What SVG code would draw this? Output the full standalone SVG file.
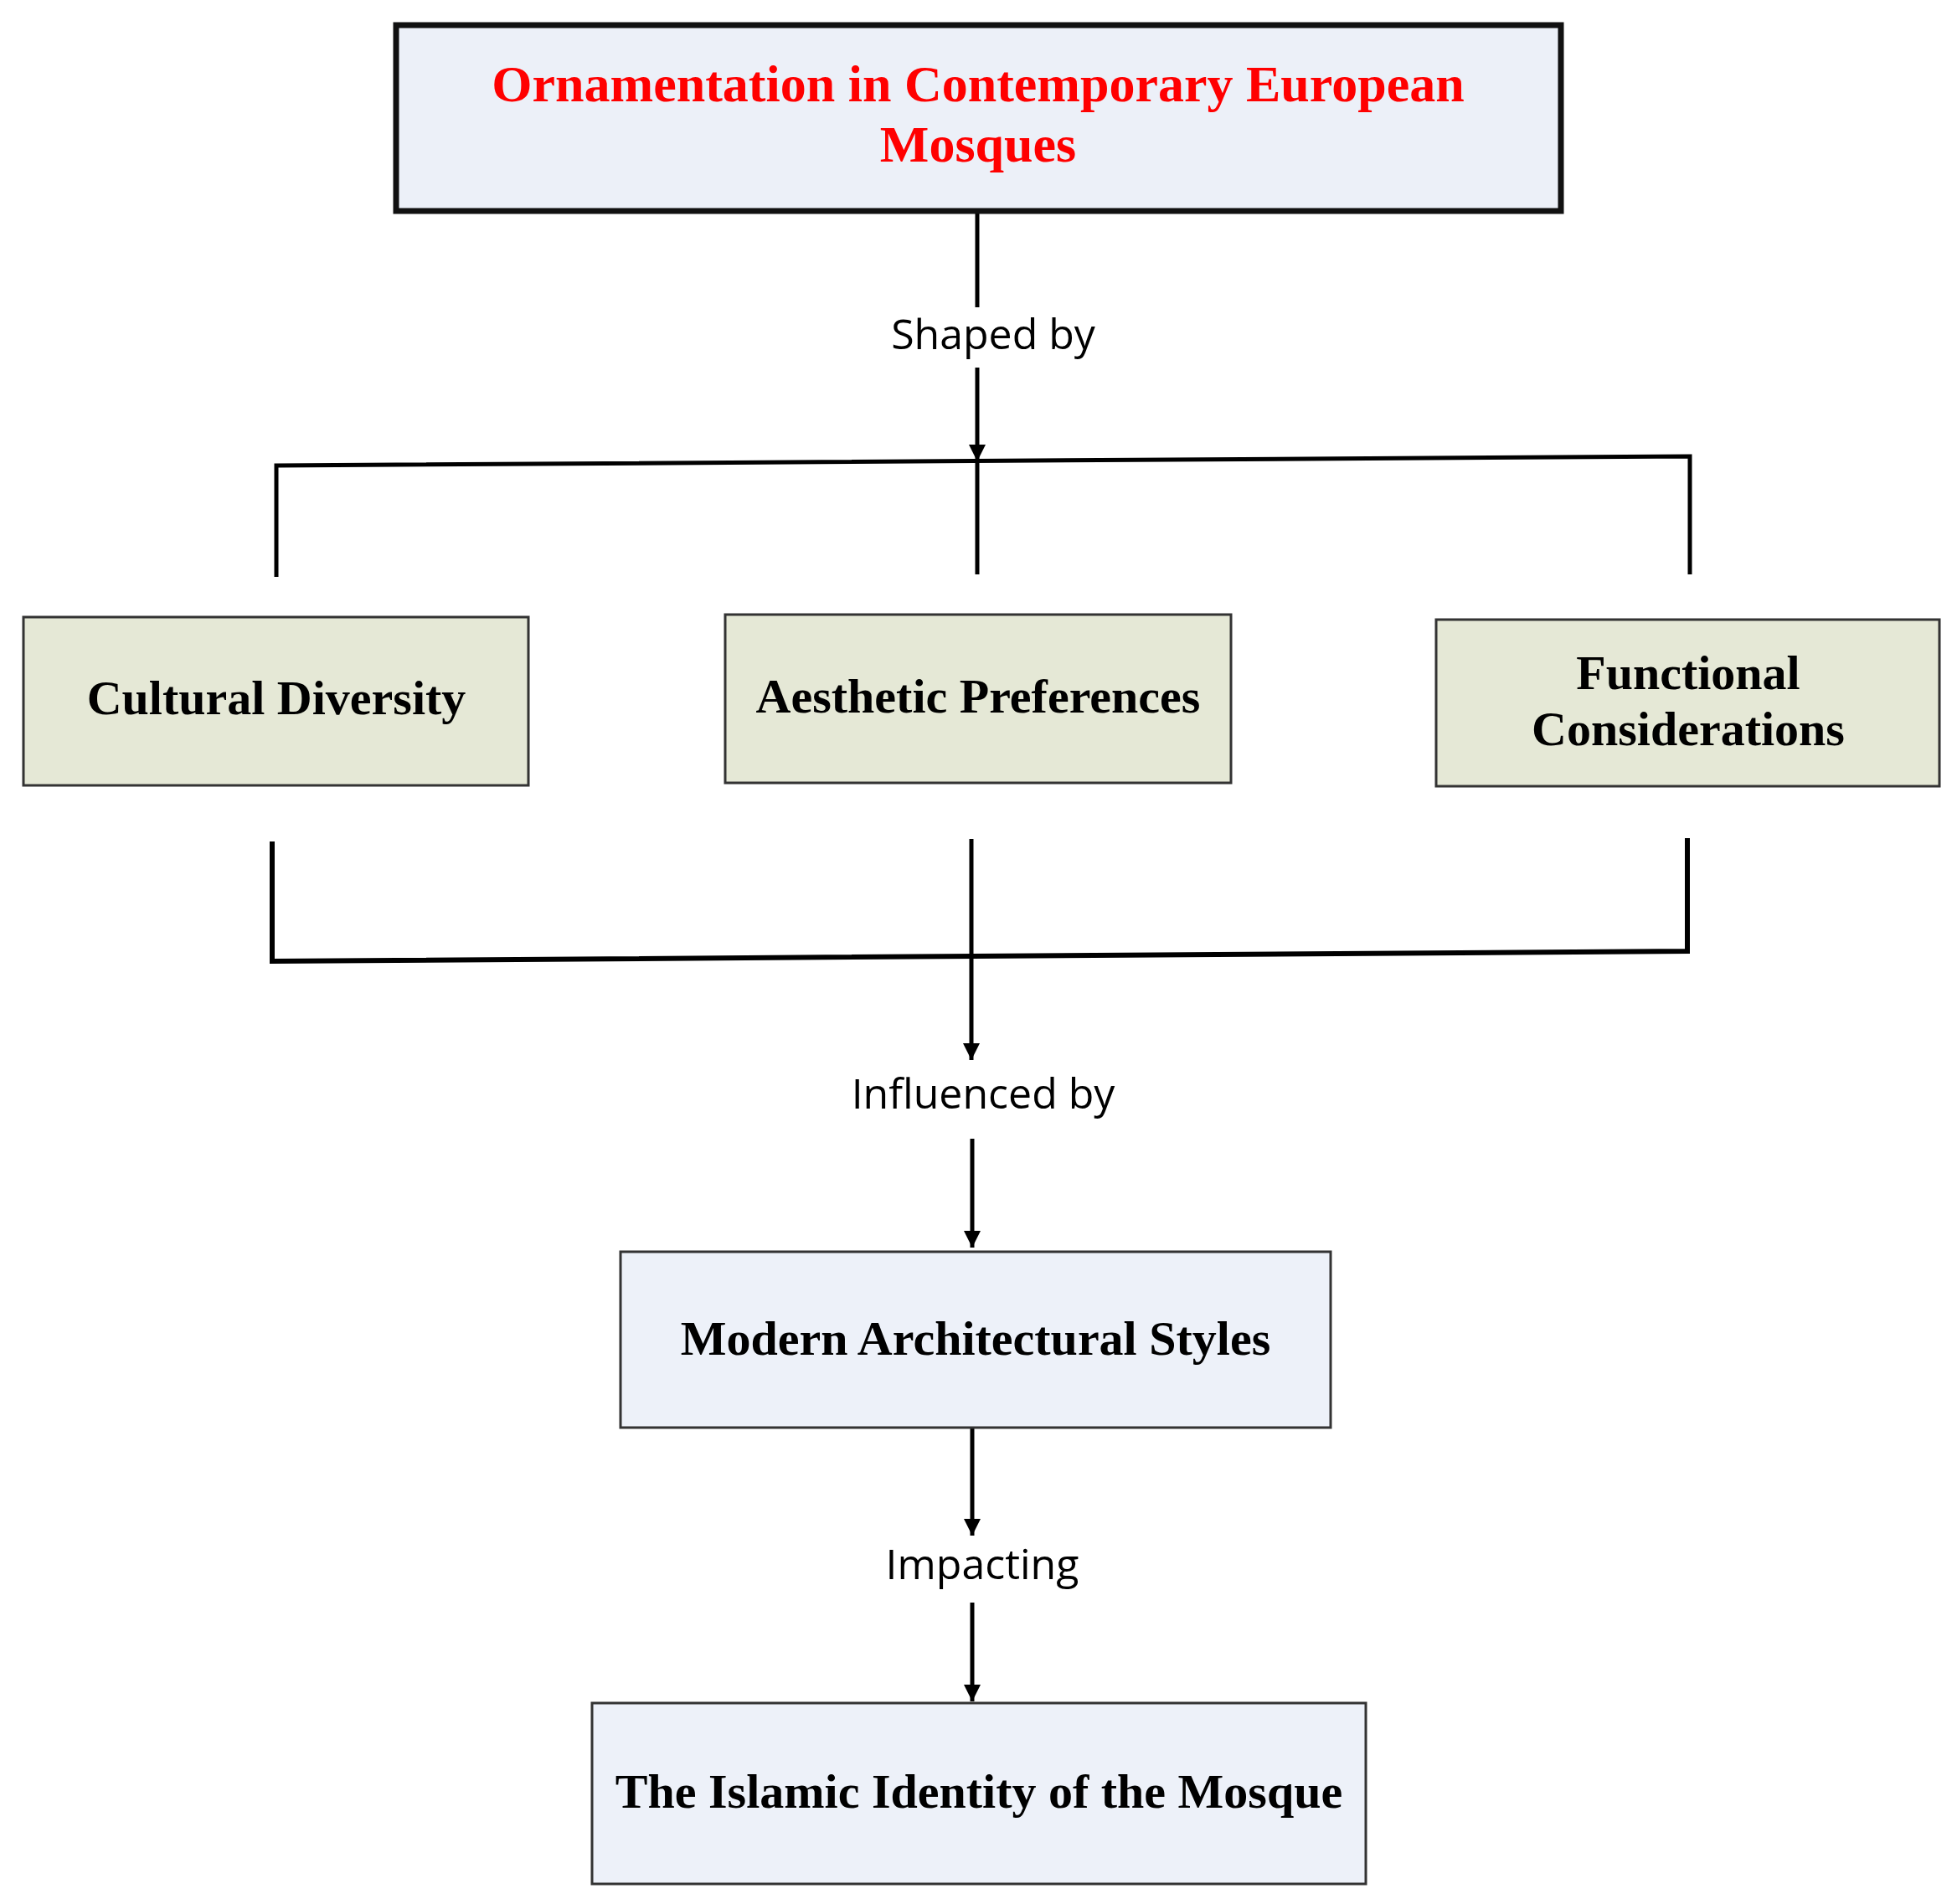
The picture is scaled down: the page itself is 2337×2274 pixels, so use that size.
<svg xmlns="http://www.w3.org/2000/svg" width="2337" height="2274" viewBox="0 0 2337 2274">
<style>
.t{font-family:"Liberation Serif","Times New Roman",serif;font-weight:bold;text-anchor:middle;fill:#000}
.lbl{font-family:"Open Sans","Noto Sans",sans-serif;font-size:50px;text-anchor:middle;fill:#000}
.c{stroke:#000;fill:none;stroke-width:5}
</style>
<defs><marker id="ah" markerWidth="10" markerHeight="10" refX="9" refY="5" orient="auto" markerUnits="userSpaceOnUse" viewBox="0 0 10 10"><path d="M0,0 L10,5 L0,10 z" fill="#000"/></marker>
<marker id="a" viewBox="0 0 10 10" refX="10" refY="5" markerWidth="20" markerHeight="20" markerUnits="userSpaceOnUse" orient="auto"><path d="M0,0 L10,5 L0,10 z" fill="#000"/></marker></defs>
<rect width="2337" height="2274" fill="#fff"/>
<g id="connectors">
<path class="c" d="M1167,252 V367"/>
<path class="c" d="M1167,439 V551" marker-end="url(#a)"/>
<path class="c" d="M330,689 V556 L2018,545 V686"/>
<path class="c" d="M1167,551 V686"/>
<path class="c" style="stroke-width:6" d="M325,1005 V1148 L2015,1136 V1001"/>
<path class="c" d="M1160,1002 V1266" marker-end="url(#a)"/>
<path class="c" d="M1161,1360 V1490" marker-end="url(#a)"/>
<path class="c" d="M1161,1705 V1834" marker-end="url(#a)"/>
<path class="c" d="M1161,1914 V2032" marker-end="url(#a)"/>
<text class="lbl" x="1186" y="417">Shaped by</text>
<text class="lbl" x="1174" y="1324">Influenced by</text>
<text class="lbl" x="1173" y="1886">Impacting</text>
</g>
<g id="title"><rect x="473" y="30" width="1391" height="222" fill="#ecf0f8" stroke="#111" stroke-width="7"/>
<text class="t" x="1168" y="121" font-size="62" fill="#f00" style="fill:#f00">Ornamentation in Contemporary European</text>
<text class="t" x="1168" y="193" font-size="62" style="fill:#f00">Mosques</text></g>
<g id="cultural"><rect x="28" y="737" width="603" height="201" fill="#e5e8d6" stroke="#333" stroke-width="3"/>
<text class="t" x="330" y="853" font-size="58">Cultural Diversity</text></g>
<g id="aesthetic"><rect x="866" y="734" width="604" height="201" fill="#e5e8d6" stroke="#333" stroke-width="3"/>
<text class="t" x="1168" y="851" font-size="58">Aesthetic Preferences</text></g>
<g id="functional"><rect x="1715" y="740" width="601" height="199" fill="#e5e8d6" stroke="#333" stroke-width="3"/>
<text class="t" x="2016" y="823" font-size="58">Functional</text>
<text class="t" x="2016" y="890" font-size="58">Considerations</text></g>
<g id="modern"><rect x="741" y="1495" width="848" height="210" fill="#edf1f9" stroke="#333" stroke-width="3"/>
<text class="t" x="1165" y="1618" font-size="58">Modern Architectural Styles</text></g>
<g id="identity"><rect x="707" y="2034" width="924" height="216" fill="#edf1f9" stroke="#333" stroke-width="3"/>
<text class="t" x="1169" y="2159" font-size="58">The Islamic Identity of the Mosque</text></g>
</svg>
